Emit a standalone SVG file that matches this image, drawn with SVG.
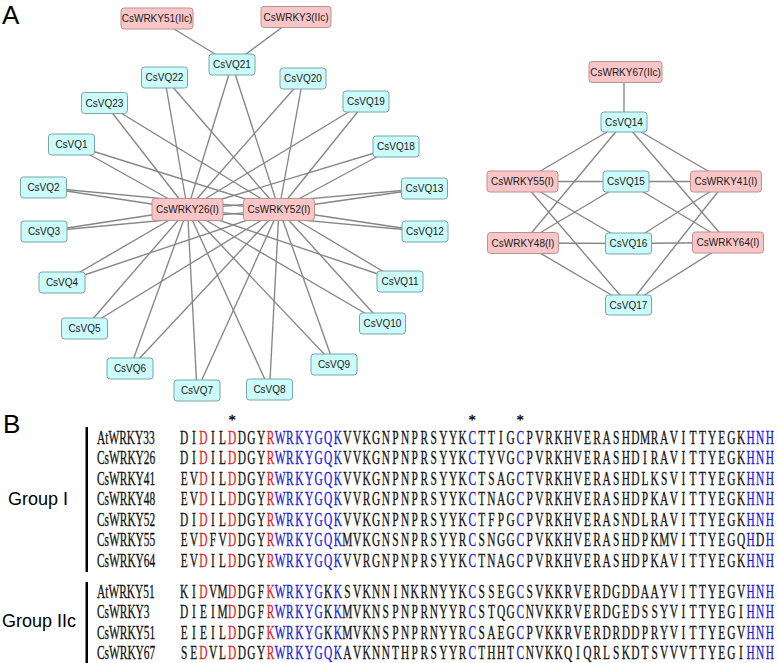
<svg xmlns="http://www.w3.org/2000/svg" width="778" height="663" viewBox="0 0 778 663">
<style>
.bg{fill:#ffffff}
.e line{stroke:#868686;stroke-width:1.35}
.w rect{fill:#f8c6c6;stroke:#c09090;stroke-width:1}
.v rect{fill:#ccfbfb;stroke:#7aa6a6;stroke-width:1}
.n text{font-family:"Liberation Sans",Arial,sans-serif;font-size:10px;fill:#1a1a1a;text-anchor:middle}
.lab{font-family:"Liberation Sans",Arial,sans-serif;fill:#000}
.star{font-family:"Liberation Serif","Times New Roman",serif;font-size:14.5px;fill:#000;stroke:#000;stroke-width:0.3;text-anchor:middle}
.al text{font-family:"Liberation Serif","Times New Roman",serif;font-size:19px;fill:#111;stroke:#111;stroke-width:0.3}
.al .s{text-anchor:middle}
.al .r{fill:#e01e1e;stroke:#e01e1e}
.al .b{fill:#1a1ae0;stroke:#1a1ae0}
.bar{fill:#000}
</style>
<rect class="bg" x="0" y="0" width="778" height="663"/>
<text class="lab" x="2" y="24" font-size="26">A</text>
<text class="lab" x="3" y="433" font-size="26">B</text>

<g id="connectors" class="e">
<line x1="157" y1="18.5" x2="232" y2="64.5"/>
<line x1="296" y1="17" x2="232" y2="64.5"/>
<line x1="232" y1="64.5" x2="187.5" y2="209.5"/><line x1="232" y1="64.5" x2="279" y2="209.5"/>
<line x1="164.5" y1="77.5" x2="187.5" y2="209.5"/><line x1="164.5" y1="77.5" x2="279" y2="209.5"/>
<line x1="303" y1="78.5" x2="187.5" y2="209.5"/><line x1="303" y1="78.5" x2="279" y2="209.5"/>
<line x1="104.5" y1="103" x2="187.5" y2="209.5"/><line x1="104.5" y1="103" x2="279" y2="209.5"/>
<line x1="366" y1="101.5" x2="187.5" y2="209.5"/><line x1="366" y1="101.5" x2="279" y2="209.5"/>
<line x1="71.5" y1="144.5" x2="187.5" y2="209.5"/><line x1="71.5" y1="144.5" x2="279" y2="209.5"/>
<line x1="396" y1="146.5" x2="187.5" y2="209.5"/><line x1="396" y1="146.5" x2="279" y2="209.5"/>
<line x1="43.5" y1="187.5" x2="187.5" y2="209.5"/><line x1="43.5" y1="187.5" x2="279" y2="209.5"/>
<line x1="424.5" y1="188.5" x2="187.5" y2="209.5"/><line x1="424.5" y1="188.5" x2="279" y2="209.5"/>
<line x1="44" y1="231.5" x2="187.5" y2="209.5"/><line x1="44" y1="231.5" x2="279" y2="209.5"/>
<line x1="425" y1="231.5" x2="187.5" y2="209.5"/><line x1="425" y1="231.5" x2="279" y2="209.5"/>
<line x1="62" y1="282.5" x2="187.5" y2="209.5"/><line x1="62" y1="282.5" x2="279" y2="209.5"/>
<line x1="400" y1="281.5" x2="187.5" y2="209.5"/><line x1="400" y1="281.5" x2="279" y2="209.5"/>
<line x1="84.5" y1="328.5" x2="187.5" y2="209.5"/><line x1="84.5" y1="328.5" x2="279" y2="209.5"/>
<line x1="382.5" y1="323.5" x2="187.5" y2="209.5"/><line x1="382.5" y1="323.5" x2="279" y2="209.5"/>
<line x1="130" y1="368.5" x2="187.5" y2="209.5"/><line x1="130" y1="368.5" x2="279" y2="209.5"/>
<line x1="334" y1="364.5" x2="187.5" y2="209.5"/><line x1="334" y1="364.5" x2="279" y2="209.5"/>
<line x1="197" y1="390.5" x2="187.5" y2="209.5"/><line x1="197" y1="390.5" x2="279" y2="209.5"/>
<line x1="269.5" y1="389.5" x2="187.5" y2="209.5"/><line x1="269.5" y1="389.5" x2="279" y2="209.5"/>
<line x1="624" y1="72" x2="624" y2="122"/>
<line x1="624" y1="122" x2="522.5" y2="181.5"/><line x1="624" y1="122" x2="726" y2="181.5"/><line x1="624" y1="122" x2="523" y2="243"/><line x1="624" y1="122" x2="728" y2="242.5"/>
<line x1="626" y1="181.5" x2="522.5" y2="181.5"/><line x1="626" y1="181.5" x2="726" y2="181.5"/><line x1="626" y1="181.5" x2="523" y2="243"/><line x1="626" y1="181.5" x2="728" y2="242.5"/>
<line x1="628.5" y1="243.5" x2="522.5" y2="181.5"/><line x1="628.5" y1="243.5" x2="726" y2="181.5"/><line x1="628.5" y1="243.5" x2="523" y2="243"/><line x1="628.5" y1="243.5" x2="728" y2="242.5"/>
<line x1="628.5" y1="305" x2="522.5" y2="181.5"/><line x1="628.5" y1="305" x2="726" y2="181.5"/><line x1="628.5" y1="305" x2="523" y2="243"/><line x1="628.5" y1="305" x2="728" y2="242.5"/>
</g>

<g class="n">
<g id="CsWRKY51_IIc" class="w"><rect x="121" y="8" width="72" height="21" rx="3"/><text x="157" y="22">CsWRKY51(IIc)</text></g>
<g id="CsWRKY3_IIc" class="w"><rect x="261" y="6.5" width="70" height="21" rx="3"/><text x="296" y="20.5">CsWRKY3(IIc)</text></g>
<g id="CsVQ21" class="v"><rect x="209" y="54" width="46" height="21" rx="3"/><text x="232" y="68">CsVQ21</text></g>
<g id="CsVQ22" class="v"><rect x="141.5" y="67" width="46" height="21" rx="3"/><text x="164.5" y="81">CsVQ22</text></g>
<g id="CsVQ20" class="v"><rect x="280" y="68" width="46" height="21" rx="3"/><text x="303" y="82">CsVQ20</text></g>
<g id="CsVQ23" class="v"><rect x="81.5" y="92.5" width="46" height="21" rx="3"/><text x="104.5" y="106.5">CsVQ23</text></g>
<g id="CsVQ19" class="v"><rect x="343" y="91" width="46" height="21" rx="3"/><text x="366" y="105">CsVQ19</text></g>
<g id="CsVQ1" class="v"><rect x="48.5" y="134" width="46" height="21" rx="3"/><text x="71.5" y="148">CsVQ1</text></g>
<g id="CsVQ18" class="v"><rect x="373" y="136" width="46" height="21" rx="3"/><text x="396" y="150">CsVQ18</text></g>
<g id="CsVQ2" class="v"><rect x="20.5" y="177" width="46" height="21" rx="3"/><text x="43.5" y="191">CsVQ2</text></g>
<g id="CsVQ13" class="v"><rect x="401.5" y="178" width="46" height="21" rx="3"/><text x="424.5" y="192">CsVQ13</text></g>
<g id="CsWRKY26_I" class="w"><rect x="152" y="198.5" width="71" height="22" rx="3"/><text x="187.5" y="213">CsWRKY26(I)</text></g>
<g id="CsWRKY52_I" class="w"><rect x="243.5" y="198.5" width="71" height="22" rx="3"/><text x="279" y="213">CsWRKY52(I)</text></g>
<g id="CsVQ3" class="v"><rect x="21" y="221" width="46" height="21" rx="3"/><text x="44" y="235">CsVQ3</text></g>
<g id="CsVQ12" class="v"><rect x="402" y="221" width="46" height="21" rx="3"/><text x="425" y="235">CsVQ12</text></g>
<g id="CsVQ4" class="v"><rect x="39" y="272" width="46" height="21" rx="3"/><text x="62" y="286">CsVQ4</text></g>
<g id="CsVQ11" class="v"><rect x="377" y="271" width="46" height="21" rx="3"/><text x="400" y="285">CsVQ11</text></g>
<g id="CsVQ5" class="v"><rect x="61.5" y="318" width="46" height="21" rx="3"/><text x="84.5" y="332">CsVQ5</text></g>
<g id="CsVQ10" class="v"><rect x="359.5" y="313" width="46" height="21" rx="3"/><text x="382.5" y="327">CsVQ10</text></g>
<g id="CsVQ6" class="v"><rect x="107" y="358" width="46" height="21" rx="3"/><text x="130" y="372">CsVQ6</text></g>
<g id="CsVQ9" class="v"><rect x="311" y="354" width="46" height="21" rx="3"/><text x="334" y="368">CsVQ9</text></g>
<g id="CsVQ7" class="v"><rect x="174" y="380" width="46" height="21" rx="3"/><text x="197" y="394">CsVQ7</text></g>
<g id="CsVQ8" class="v"><rect x="246.5" y="379" width="46" height="21" rx="3"/><text x="269.5" y="393">CsVQ8</text></g>

<g id="CsWRKY67_IIc" class="w"><rect x="589" y="61.5" width="73" height="21" rx="3"/><text x="625.5" y="75.5">CsWRKY67(IIc)</text></g>
<g id="CsVQ14" class="v"><rect x="601" y="112" width="46" height="20" rx="3"/><text x="624" y="125.5">CsVQ14</text></g>
<g id="CsWRKY55_I" class="w"><rect x="487" y="171" width="71" height="21" rx="3"/><text x="522.5" y="185">CsWRKY55(I)</text></g>
<g id="CsVQ15" class="v"><rect x="603" y="171" width="46" height="21" rx="3"/><text x="626" y="185">CsVQ15</text></g>
<g id="CsWRKY41_I" class="w"><rect x="690.5" y="171" width="71" height="21" rx="3"/><text x="726" y="185">CsWRKY41(I)</text></g>
<g id="CsWRKY48_I" class="w"><rect x="487.5" y="232.5" width="71" height="21" rx="3"/><text x="523" y="246.5">CsWRKY48(I)</text></g>
<g id="CsVQ16" class="v"><rect x="605.5" y="233" width="46" height="21" rx="3"/><text x="628.5" y="247">CsVQ16</text></g>
<g id="CsWRKY64_I" class="w"><rect x="692.5" y="232" width="71" height="21" rx="3"/><text x="728" y="246">CsWRKY64(I)</text></g>
<g id="CsVQ17" class="v"><rect x="605.5" y="295" width="46" height="20" rx="3"/><text x="628.5" y="308.5">CsVQ17</text></g>
</g>

<g id="alignment">
<rect class="bar" x="85.5" y="427" width="2.5" height="145"/>
<rect class="bar" x="85.5" y="582" width="2.5" height="81"/>
<text class="lab" x="8" y="505" font-size="18">Group I</text>
<text class="lab" x="2" y="627" font-size="18">Group IIc</text>
<text class="star" x="232.2" y="424.5">*</text>
<text class="star" x="472.2" y="424.5">*</text>
<text class="star" x="520.2" y="424.5">*</text>
<g class="al" transform="scale(0.6,1)">
<text x="161.7" y="444">AtWRKY33</text>
<text x="161.7" y="464.5">CsWRKY26</text>
<text x="161.7" y="485">CsWRKY41</text>
<text x="161.7" y="505.5">CsWRKY48</text>
<text x="161.7" y="526">CsWRKY52</text>
<text x="161.7" y="546.5">CsWRKY55</text>
<text x="161.7" y="567">CsWRKY64</text>
<text x="161.7" y="598">AtWRKY51</text>
<text x="161.7" y="618.5">CsWRKY3</text>
<text x="161.7" y="639">CsWRKY51</text>
<text x="161.7" y="659.5">CsWRKY67</text>
<text class="s" y="444" x="307 323 339 355 371 387 403 419 435 451 467 483 499 515 531 547 563 579 595 611 627 643 659 675 691 707 723 739 755 771 787 803 819 835 851 867 883 899 915 931 947 963 979 995 1011 1027 1043 1059 1075 1091 1107 1123 1139 1155 1171 1187 1203 1219 1235 1251 1267 1283">DI<tspan class="r">D</tspan>IL<tspan class="r">D</tspan>DGY<tspan class="r">R</tspan><tspan class="b">WRKYGQK</tspan>VVKGNPNPRSYYK<tspan class="b">C</tspan>TTIG<tspan class="b">C</tspan>PVRKHVERASHDMRAVITTYEGK<tspan class="b">HNH</tspan></text>
<text class="s" y="464.5" x="307 323 339 355 371 387 403 419 435 451 467 483 499 515 531 547 563 579 595 611 627 643 659 675 691 707 723 739 755 771 787 803 819 835 851 867 883 899 915 931 947 963 979 995 1011 1027 1043 1059 1075 1091 1107 1123 1139 1155 1171 1187 1203 1219 1235 1251 1267 1283">DI<tspan class="r">D</tspan>IL<tspan class="r">D</tspan>DGY<tspan class="r">R</tspan><tspan class="b">WRKYGQK</tspan>VVKGNPNPRSYYK<tspan class="b">C</tspan>TYVG<tspan class="b">C</tspan>PVRKHVERASHDIRAVITTYEGK<tspan class="b">HNH</tspan></text>
<text class="s" y="485" x="307 323 339 355 371 387 403 419 435 451 467 483 499 515 531 547 563 579 595 611 627 643 659 675 691 707 723 739 755 771 787 803 819 835 851 867 883 899 915 931 947 963 979 995 1011 1027 1043 1059 1075 1091 1107 1123 1139 1155 1171 1187 1203 1219 1235 1251 1267 1283">EV<tspan class="r">D</tspan>IL<tspan class="r">D</tspan>DGY<tspan class="r">R</tspan><tspan class="b">WRKYGQK</tspan>VVKGNPNPRSYYK<tspan class="b">C</tspan>TSAG<tspan class="b">C</tspan>TVRKHVERASHDLKSVITTYEGK<tspan class="b">HNH</tspan></text>
<text class="s" y="505.5" x="307 323 339 355 371 387 403 419 435 451 467 483 499 515 531 547 563 579 595 611 627 643 659 675 691 707 723 739 755 771 787 803 819 835 851 867 883 899 915 931 947 963 979 995 1011 1027 1043 1059 1075 1091 1107 1123 1139 1155 1171 1187 1203 1219 1235 1251 1267 1283">EV<tspan class="r">D</tspan>IL<tspan class="r">D</tspan>DGY<tspan class="r">R</tspan><tspan class="b">WRKYGQK</tspan>VVRGNPNPRSYYK<tspan class="b">C</tspan>TNAG<tspan class="b">C</tspan>PVRKHVERASHDPKAVITTYEGK<tspan class="b">HNH</tspan></text>
<text class="s" y="526" x="307 323 339 355 371 387 403 419 435 451 467 483 499 515 531 547 563 579 595 611 627 643 659 675 691 707 723 739 755 771 787 803 819 835 851 867 883 899 915 931 947 963 979 995 1011 1027 1043 1059 1075 1091 1107 1123 1139 1155 1171 1187 1203 1219 1235 1251 1267 1283">DI<tspan class="r">D</tspan>IL<tspan class="r">D</tspan>DGY<tspan class="r">R</tspan><tspan class="b">WRKYGQK</tspan>VVKGNPNPRSYYK<tspan class="b">C</tspan>TFPG<tspan class="b">C</tspan>PVRKHVERASNDLRAVITTYEGK<tspan class="b">HNH</tspan></text>
<text class="s" y="546.5" x="307 323 339 355 371 387 403 419 435 451 467 483 499 515 531 547 563 579 595 611 627 643 659 675 691 707 723 739 755 771 787 803 819 835 851 867 883 899 915 931 947 963 979 995 1011 1027 1043 1059 1075 1091 1107 1123 1139 1155 1171 1187 1203 1219 1235 1251 1267 1283">EV<tspan class="r">D</tspan>FV<tspan class="r">D</tspan>DGY<tspan class="r">R</tspan><tspan class="b">WRKYGQK</tspan>MVKGNSNPRSYYR<tspan class="b">C</tspan>SNGG<tspan class="b">C</tspan>PVKKHVERASHDPKMVITTYEGQ<tspan class="b">H</tspan>D<tspan class="b">H</tspan></text>
<text class="s" y="567" x="307 323 339 355 371 387 403 419 435 451 467 483 499 515 531 547 563 579 595 611 627 643 659 675 691 707 723 739 755 771 787 803 819 835 851 867 883 899 915 931 947 963 979 995 1011 1027 1043 1059 1075 1091 1107 1123 1139 1155 1171 1187 1203 1219 1235 1251 1267 1283">EV<tspan class="r">D</tspan>IL<tspan class="r">D</tspan>DGY<tspan class="r">R</tspan><tspan class="b">WRKYGQK</tspan>VVRGNPNPRSYYK<tspan class="b">C</tspan>TNAG<tspan class="b">C</tspan>PVRKHVERASHDPKAVITTYEGK<tspan class="b">HNH</tspan></text>
<text class="s" y="598" x="307 323 339 355 371 387 403 419 435 451 467 483 499 515 531 547 563 579 595 611 627 643 659 675 691 707 723 739 755 771 787 803 819 835 851 867 883 899 915 931 947 963 979 995 1011 1027 1043 1059 1075 1091 1107 1123 1139 1155 1171 1187 1203 1219 1235 1251 1267 1283">KI<tspan class="r">D</tspan>VM<tspan class="r">D</tspan>DGF<tspan class="r">K</tspan><tspan class="b">WRKYG</tspan>K<tspan class="b">K</tspan>SVKNNINKRNYYK<tspan class="b">C</tspan>SSEG<tspan class="b">C</tspan>SVKKRVERDGDDAAYVITTYEGV<tspan class="b">HNH</tspan></text>
<text class="s" y="618.5" x="307 323 339 355 371 387 403 419 435 451 467 483 499 515 531 547 563 579 595 611 627 643 659 675 691 707 723 739 755 771 787 803 819 835 851 867 883 899 915 931 947 963 979 995 1011 1027 1043 1059 1075 1091 1107 1123 1139 1155 1171 1187 1203 1219 1235 1251 1267 1283">DIEIM<tspan class="r">D</tspan>DGF<tspan class="r">R</tspan><tspan class="b">WRKYG</tspan>K<tspan class="b">K</tspan>MVKNSPNPRNYYR<tspan class="b">C</tspan>STQG<tspan class="b">C</tspan>NVKKRVERDGEDSSYVITTYEGI<tspan class="b">HNH</tspan></text>
<text class="s" y="639" x="307 323 339 355 371 387 403 419 435 451 467 483 499 515 531 547 563 579 595 611 627 643 659 675 691 707 723 739 755 771 787 803 819 835 851 867 883 899 915 931 947 963 979 995 1011 1027 1043 1059 1075 1091 1107 1123 1139 1155 1171 1187 1203 1219 1235 1251 1267 1283">EIEIL<tspan class="r">D</tspan>DGF<tspan class="r">K</tspan><tspan class="b">WRKYG</tspan>K<tspan class="b">K</tspan>MVKNSPNPRNYYR<tspan class="b">C</tspan>SAEG<tspan class="b">C</tspan>PVKKRVERDRDDPRYVITTYEGV<tspan class="b">HNH</tspan></text>
<text class="s" y="659.5" x="307 323 339 355 371 387 403 419 435 451 467 483 499 515 531 547 563 579 595 611 627 643 659 675 691 707 723 739 755 771 787 803 819 835 851 867 883 899 915 931 947 963 979 995 1011 1027 1043 1059 1075 1091 1107 1123 1139 1155 1171 1187 1203 1219 1235 1251 1267 1283">SE<tspan class="r">D</tspan>VL<tspan class="r">D</tspan>DGY<tspan class="r">R</tspan><tspan class="b">WRKYGQK</tspan>AVKNNTHPRSYYR<tspan class="b">C</tspan>THHT<tspan class="b">C</tspan>NVKKQIQRLSKDTSVVVTTYEGI<tspan class="b">HNH</tspan></text>
</g>
</g>
</svg>
